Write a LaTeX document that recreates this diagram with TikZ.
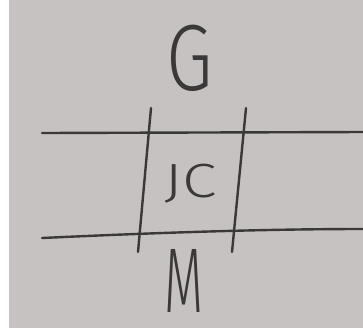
\documentclass[tikz,border=0pt]{standalone}
\usepackage{fontspec}
\usepackage{graphicx}
\usepackage{tikz}
\usepackage{xcolor}
\newfontfamily\handfont{Fira Sans Light}
\definecolor{paper}{HTML}{C6C2C1}
\definecolor{pencil}{HTML}{3A3838}

\begin{document}
\begin{tikzpicture}[
    x=1pt, y=-1pt,
    stroke/.style={
        draw=pencil,
        line width=2.4pt,
        line cap=round
    },
    letter/.style={
        text=pencil,
        inner sep=1pt,
        anchor=base,
        font=\handfont
    }
]
% paper
\fill[paper] (0,0) rectangle (363,330);
\fill[white] (0,0) rectangle (9,330);
\fill[white] (0,328) rectangle (363,330);
\useasboundingbox (0,0) rectangle (363,330);

% end points of the strokes
\coordinate (topL) at (42,133);
\coordinate (topR) at (363,132);
\coordinate (botL) at (42,238);
\coordinate (botR) at (363,229);
\coordinate (barLt) at (151,108);
\coordinate (barLb) at (138,252);
\coordinate (barRt) at (246,108);
\coordinate (barRb) at (232,252);

\draw[stroke] (topL) -- (topR);
\draw[stroke] (botL) .. controls (150,233) and (260,229) .. (botR);
\draw[stroke] (barLt) -- (barLb);
\draw[stroke] (barRt) -- (barRb);

% letters
\node (g) [letter] at (190,90) {\scalebox{0.8}[1]{\fontsize{94}{94}\selectfont G}};
\node (jc) [letter] at (191,197) {\scalebox{1.3}[1]{\fontsize{48}{48}\selectfont JC}};
\node (m) [letter] at (184,312) {\scalebox{0.55}[1]{\fontsize{92}{92}\selectfont M}};
\end{tikzpicture}
\end{document}
